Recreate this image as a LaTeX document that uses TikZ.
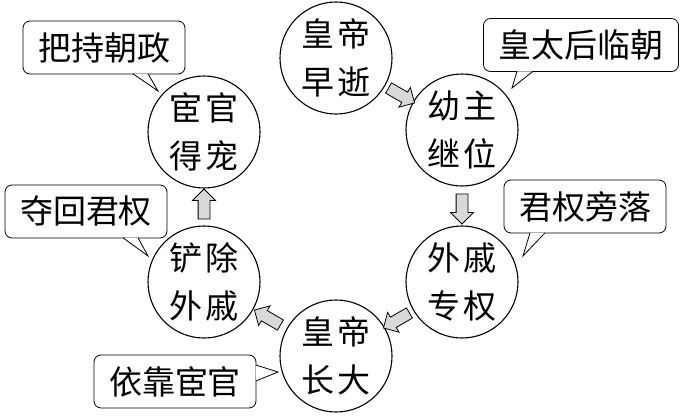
\documentclass[tikz,border=0pt]{standalone}
\usepackage{fontspec}
\newfontfamily\cjk{Noto Sans CJK SC}
\usetikzlibrary{shapes.arrows,calc}

\tikzset{
  stage/.style={circle, draw, line width=1.1pt, minimum size=112pt, inner sep=0pt,
    align=center, font=\cjk\fontsize{33}{48}\selectfont},
  note/.style={draw, line width=0.8pt, rounded corners=7pt, inner xsep=15pt,
    minimum height=53pt, font=\cjk\fontsize{33}{40}\selectfont},
  tail/.style={draw, fill=white, line width=0.8pt},
  flow/.style={single arrow, draw, fill=gray!30, line width=0.8pt, inner sep=5.5pt,
    minimum height=30pt, single arrow head extend=5.5pt},
}

\begin{document}
\begin{tikzpicture}[x=1pt,y=-1pt]
  \useasboundingbox (0,0) rectangle (681,418);

  % the cycle
  \node[stage] (die)   at (336,58)  {皇\hspace{4pt}帝\\早\hspace{4pt}逝};
  \node[stage] (heir)  at (462,130) {幼\hspace{4pt}主\\继\hspace{4pt}位};
  \node[stage] (kin)   at (462,282) {外\hspace{4pt}戚\\专\hspace{4pt}权};
  \node[stage] (grown) at (336,356) {皇\hspace{4pt}帝\\长\hspace{4pt}大};
  \node[stage] (purge) at (204,282) {铲\hspace{4pt}除\\外\hspace{4pt}戚};
  \node[stage] (eun)   at (204,132) {宦\hspace{4pt}官\\得\hspace{4pt}宠};

  \node[flow, rotate=-30]  (f1) at ($(die)!0.5!(heir)$)   {};
  \node[flow, rotate=-90]  (f2) at ($(heir)!0.5!(kin)$)   {};
  \node[flow, rotate=-150] (f3) at ($(kin)!0.5!(grown)$)  {};
  \node[flow, rotate=150]  (f4) at ($(grown)!0.5!(purge)$) {};
  \node[flow, rotate=90]   (f5) at ($(purge)!0.5!(eun)$)  {};

  % speech boxes
  \node[note] (n1) at (104,47.5)  {把持朝政};
  \node[note] (n2) at (581,45)    {皇太后临朝};
  \node[note] (n3) at (585,206.5) {君权旁落};
  \node[note] (n4) at (86,211.5)  {夺回君权};
  \node[note] (n5) at (175,381.5) {依靠宦官};

  \coordinate (p1) at (158,91);
  \coordinate (p2) at (512,88);
  \coordinate (p3) at (523,256);
  \coordinate (p4) at (148,256);
  \coordinate (p5) at (278,372);

  \draw[tail] ([xshift=29pt,yshift=0.6pt]n1.south) -- (p1) -- ([xshift=44pt,yshift=0.6pt]n1.south);
  \draw[tail] ([xshift=-64pt,yshift=0.6pt]n2.south) -- (p2) -- ([xshift=-48pt,yshift=0.6pt]n2.south);
  \draw[tail] ([xshift=-55pt,yshift=0.6pt]n3.south) -- (p3) -- ([xshift=-40pt,yshift=0.6pt]n3.south);
  \draw[tail] ([xshift=37pt,yshift=0.6pt]n4.south) -- (p4) -- ([xshift=52pt,yshift=0.6pt]n4.south);
  \draw[tail] ([xshift=-0.6pt,yshift=16.5pt]n5.east) -- (p5) -- ([xshift=-0.6pt,yshift=0.5pt]n5.east);
\end{tikzpicture}
\end{document}
